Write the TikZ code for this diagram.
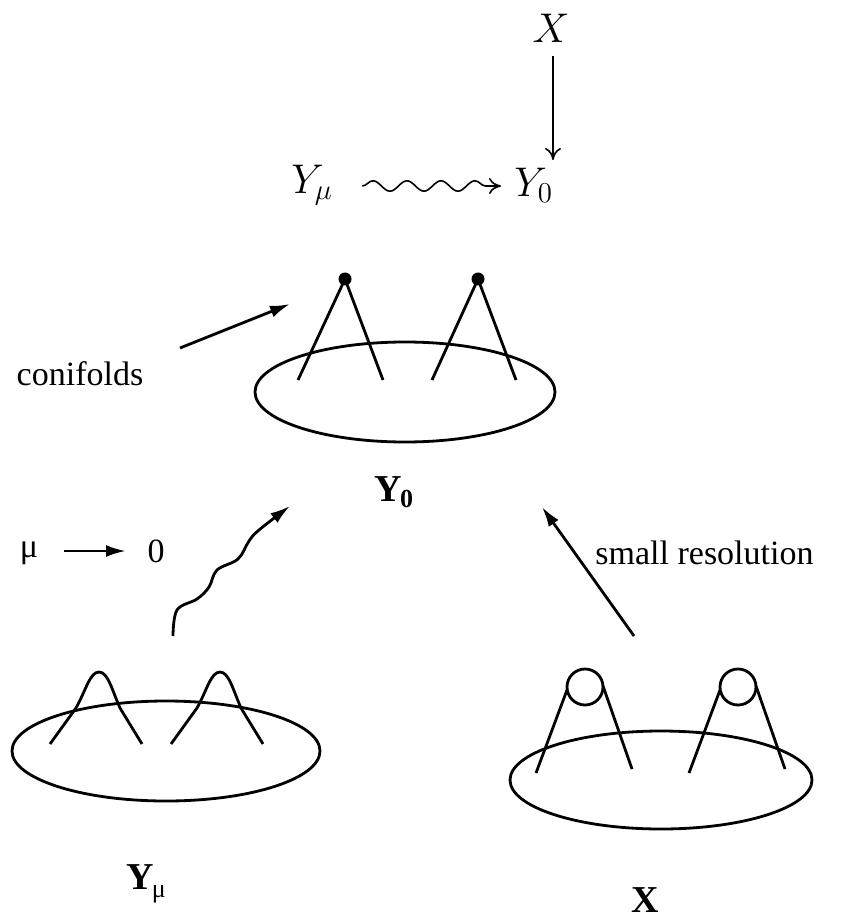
\documentclass[tikz,border=0pt]{standalone}
\usepackage{fontspec}
\setmainfont{Liberation Serif}
\usetikzlibrary{arrows.meta,decorations.pathmorphing}
\begin{document}
\begin{tikzpicture}[x=0.5pt,y=-0.5pt,line width=1.4pt,
  txt/.style={inner sep=0pt,font=\fontsize{17}{20}\selectfont},
  lab/.style={inner sep=0pt,font=\fontsize{19}{22}\selectfont\bfseries},
  mth/.style={inner sep=0pt,font=\fontsize{22}{26}\selectfont},
  tri/.style={-{Latex[length=10pt,width=6pt]}},
  thin arrow/.style={line width=0.8pt,-{To[length=6pt,width=8pt]}},
  bump/.pic={\draw (-49,72) -- (-23,36) .. controls (-13,18) and (-9,0) .. (0,0) .. controls (9,0) and (13,18) .. (21,36) -- (43,72);},
  sres/.pic={\draw (0,0) circle[radius=18];
    \draw (-18,3) -- (-49,86); \draw (18,-1) -- (47,82);}]
\useasboundingbox (0,0) rectangle (855,919);

% top diagram
\node[mth] (tX) at (551,28) {$X$};
\node[mth,anchor=west] (tYm) at (290,185) {$Y_\mu$};
\node[mth,anchor=west] (tY0) at (513,185) {$Y_0$};
\coordinate (vtop) at (553,56);
\coordinate (vbot) at (553,160);
\draw[thin arrow] (vtop) -- (vbot);
\coordinate (sqa) at ([xshift=14]tYm.east |- 0,186);
\coordinate (sqb) at ([xshift=-6]tY0.west |- 0,186);
\draw[line width=0.8pt,decorate,decoration={snake,amplitude=2.6pt,segment length=17pt,post length=6pt},-{To[length=6pt,width=8pt]}] (sqa) -- (sqb);

% middle: Y_0 figure
\draw (405,392) ellipse[x radius=150,y radius=50];
\coordinate (p1) at (345,279);
\coordinate (p2) at (478,279);
\draw (298,380) -- (p1) -- (383,380);
\draw (432,380) -- (p2) -- (516,380);
\fill (p1) circle[radius=6.5];
\fill (p2) circle[radius=6.5];
\node[txt] (conif) at (80,374) {conifolds};
\coordinate (ca) at (180,348);
\coordinate (cb) at (290,304);
\draw[tri] (ca) -- (cb);
\node[lab] (lY0) at (394,492) {Y\kern-1pt\raisebox{-3pt}{\fontsize{13}{13}\selectfont 0}};

% mu -> 0
\node[txt] (mu) at (29,553) {μ};
\node[txt] (zero) at (156,551) {0};
\coordinate (ma) at (64,551);
\coordinate (mb) at (126,551);
\draw[tri] (ma) -- (mb);

% wavy arrow
\coordinate (w0) at (173,636);
\coordinate (w9) at (290,506);
\draw[tri] plot[smooth,tension=0.6] coordinates {(w0) (177,610) (197,599) (209,587) (217,570) (238,559) (249,541) (259,530) (w9)};

% small resolution
\node[txt,anchor=west] (sres) at (594,553) {small resolution};
\coordinate (ra) at (634,636);
\coordinate (rb) at (542,507);
\draw[tri] (ra) -- (rb);

% bottom-left Y_mu figure
\draw (166,751) ellipse[x radius=154,y radius=50];
\pic at (99,672) {bump};
\pic at (220,672) {bump};
\node[lab] (lYm) at (146,884) {Y\kern-1pt\raisebox{-4pt}{\fontsize{13}{13}\selectfont\mdseries μ}};

% bottom-right X figure
\draw (661,780) ellipse[x radius=151,y radius=49];
\pic at (585,687) {sres};
\pic at (738,687) {sres};
\node[lab] (lX) at (645,900) {X};
\end{tikzpicture}
\end{document}
